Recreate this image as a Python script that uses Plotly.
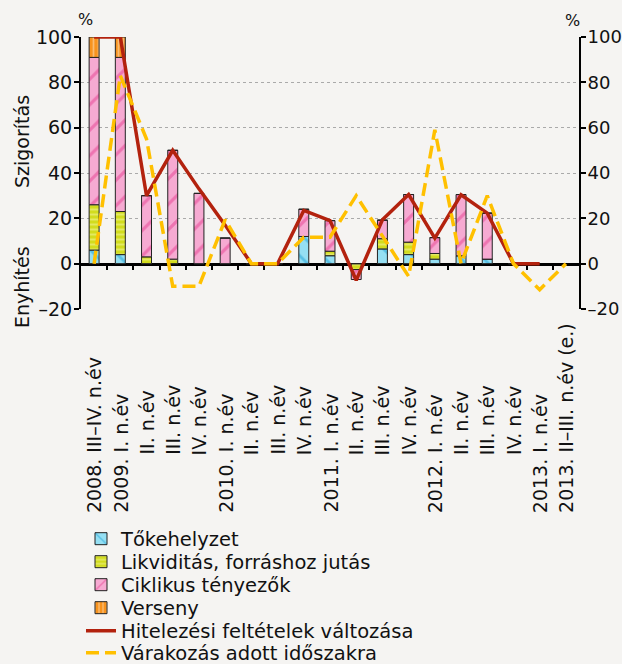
import plotly.graph_objects as go

categories = ["2008. III–IV. n.év", "2009. I. n.év", "II. n.év", "III. n.év", "IV. n.év",
              "2010. I. n.év", "II. n.év", "III. n.év", "IV. n.év",
              "2011. I. n.év", "II. n.év", "III. n.év", "IV. n.év",
              "2012. I. n.év", "II. n.év", "III. n.év", "IV. n.év",
              "2013. I. n.év", "2013. II–III. n.év (e.)"]
has_year = [True, True, False, False, False, True, False, False, False,
            True, False, False, False, True, False, False, False, True, True]

tokehelyzet = [6, 4, 0, 0, 0, 0, 0, 0, 12, 3.5, 0, 6.5, 4, 2, 3.5, 2, 0, None, None]
likviditas = [20, 19, 3, 2, 0, 0, 0, 0, 0, 2, -2.6, 4.5, 5.5, 2.5, 0, 0, 0, None, None]
ciklikus = [65, 68, 27, 48, 31, 11.3, 0, 0, 12, 13.5, -4.4, 8.2, 21, 7, 27, 20.3, 0, None, None]
verseny = [9, 9, 0, 0, 0, 0, 0, 0, 0, 0, 0, 0, 0, 0, 0, 0, 0, None, None]
hitelezesi = [100, 100, 30, 50, 33, 17, 0, 0, 23.5, 19, -7.3, 19.4, 30.5, 11.3, 30.4, 22.3, 0, 0, None]
varakozas = [0, 83, 55, -10, -10, 19.4, 0, 0, 11.7, 11.7, 30, 12.2, -5.6, 59, 0, 30, 0, -11.5, 0]

xs = list(range(len(categories)))
FONT = "DejaVu Sans"
BG = "#f5f4f2"

L, R, T, B = 81, 43, 37, 355
W, H = 622, 664
pw, ph = W - L - R, H - T - B

# legend rows (pixel centres)
legend_rows = [539, 562, 585, 608, 631, 653]

fig = go.Figure()

def add_bar(name, vals, fill, fg, shape, size, solidity, leg):
    fig.add_trace(go.Bar(
        x=xs, y=vals, name=name, legend=leg,
        marker=dict(color=fill, line=dict(color="#222222", width=1),
                    pattern=dict(shape=shape, fgcolor=fg, bgcolor=fill,
                                 size=size, solidity=solidity, fillmode="overlay")),
    ))

add_bar("Tőkehelyzet", tokehelyzet, "#95dff3", "#1b9fd6", "\\", 16, 0.18, "legend")
add_bar("Likviditás, forráshoz jutás", likviditas, "#d2dc1e", "#f3f5a8", "-", 5, 0.4, "legend2")
add_bar("Ciklikus tényezők", ciklikus, "#f6aad2", "#e63d8f", "/", 18, 0.18, "legend3")
add_bar("Verseny", verseny, "#f7931e", "#fde3c4", "|", 5, 0.35, "legend4")

fig.add_trace(go.Scatter(x=xs, y=hitelezesi, name="Hitelezési feltételek változása",
                         mode="lines", line=dict(color="#b3220e", width=3.5), yaxis="y2",
                         legend="legend5"))
fig.add_trace(go.Scatter(x=xs, y=varakozas, name="Várakozás adott időszakra",
                         mode="lines", line=dict(color="#ffc000", width=3.5, dash="13px,6px"),
                         yaxis="y2", legend="legend6"))

def px_to_paper(px, py):
    return (px - L) / pw, 1 - (py - T) / ph

annotations = []
_, ylab = px_to_paper(0, 515)
for i, (lab, hy) in enumerate(zip(categories, has_year)):
    annotations.append(dict(x=i, y=ylab, xref="x", yref="paper", text=lab,
                            textangle=-90, xanchor="center", yanchor="bottom",
                            yshift=0 if hy else 58, showarrow=False,
                            font=dict(family=FONT, size=19, color="#111")))

def side_text(px, py, text, angle=0, size=19):
    x, y = px_to_paper(px, py)
    return dict(x=x, y=y, xref="paper", yref="paper", text=text, showarrow=False,
                textangle=angle, xanchor="center", yanchor="middle",
                font=dict(family=FONT, size=size, color="#111"))

annotations += [
    side_text(85, 19, "%", size=16),
    side_text(572, 20, "%", size=16),
    side_text(22, 142, "Szigorítás", -90),
    side_text(22, 287, "Enyhítés", -90),
]

def yax(fsize):
    return dict(range=[-20, 100], tickvals=[-20, 0, 20, 40, 60, 80, 100],
                ticktext=["–20", "0", "20", "40", "60", "80", "100"],
                showline=True, linecolor="#000", linewidth=2, ticks="outside", ticklen=5,
                tickcolor="#000", tickwidth=2,
                tickfont=dict(family=FONT, size=fsize, color="#111"),
                ticklabelstandoff=-2, zeroline=False)

legends = {}
for k, cy in enumerate(legend_rows):
    key = "legend" if k == 0 else f"legend{k + 1}"
    legends[key] = dict(x=0.0, y=1 - cy / H, xref="paper", yref="container",
                        xanchor="left", yanchor="middle",
                        font=dict(family=FONT, size=19.5, color="#111"),
                        bgcolor="rgba(0,0,0,0)", itemwidth=30)

fig.update_layout(
    width=W, height=H,
    margin=dict(l=L, r=R, t=T, b=B, autoexpand=False),
    paper_bgcolor=BG, plot_bgcolor=BG,
    barmode="relative", bargap=0.62,
    showlegend=True,
    xaxis=dict(range=[-0.5, len(categories) - 0.5], anchor="free", position=20 / 120,
               tickmode="array", tickvals=[i - 0.5 for i in range(1, len(categories))],
               showticklabels=False, ticks="outside", ticklen=5, tickwidth=2, tickcolor="#000",
               showline=True, linecolor="#000", linewidth=2.5, showgrid=False, zeroline=False,
               layer="below traces"),
    yaxis=dict(**yax(19), showgrid=True, gridcolor="#aaaaaa", griddash="dot", gridwidth=1),
    yaxis2=dict(**yax(18), overlaying="y", side="right", showgrid=False),
    annotations=annotations,
    **legends,
)

fig.write_html("out.html", config={"displayModeBar": False},
               post_script="document.body.style.margin='0px';"
                           "document.body.style.background='" + BG + "';")
